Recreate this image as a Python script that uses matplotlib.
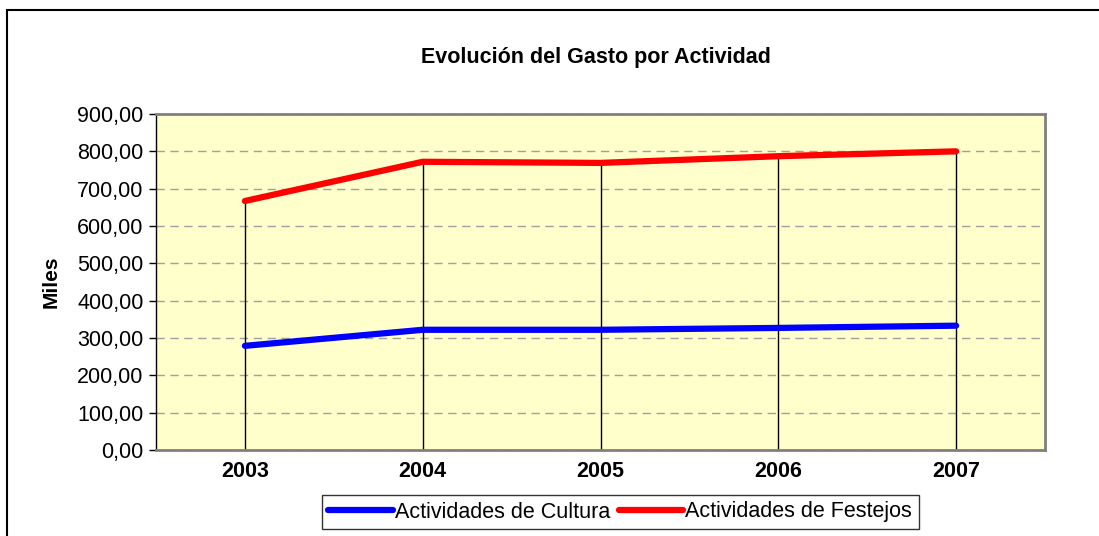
""" Evolución del Gasto por Actividad
"""

import matplotlib
matplotlib.use('Agg')
import matplotlib.pyplot as plt
from matplotlib.patches import Rectangle
from matplotlib.ticker import FuncFormatter, MultipleLocator

# Data
years = ['2003', '2004', '2005', '2006', '2007']
cultura = [279, 322, 322, 327, 333]
festejos = [667, 772, 769, 787, 800]

W, H = 1099, 536
plt.rcParams['font.family'] = ['Liberation Sans', 'DejaVu Sans']

fig = plt.figure(figsize=(W / 100, H / 100), dpi=100)
fig.patch.set_facecolor('white')

# Outer frame (extends past right/bottom edge like the source)
fig.patches.append(Rectangle((7 / W, -0.1), 1.2, 1 - 10 / H + 0.1,
                             transform=fig.transFigure, fill=False,
                             edgecolor='black', lw=1.5, clip_on=False))

ax = fig.add_axes([156 / W, (H - 450) / H, (1045 - 156) / W, (450 - 114) / H])
ax.set_facecolor('#FFFFCC')

x = list(range(len(years)))
# drop lines
top = [max(a, b) for a, b in zip(cultura, festejos)]
ax.vlines(x, 0, top, colors='black', lw=1, zorder=2)

ax.plot(x, cultura, color='#0000FF', lw=4.5, label='Actividades de Cultura',
        solid_capstyle='round', zorder=3)
ax.plot(x, festejos, color='#FF0000', lw=4.5, label='Actividades de Festejos',
        solid_capstyle='round', zorder=3)

ax.set_xlim(-0.5, 4.5)
ax.set_ylim(0, 900)
ax.yaxis.set_major_locator(MultipleLocator(100))
ax.yaxis.set_major_formatter(FuncFormatter(lambda v, p: ('%.2f' % v).replace('.', ',')))
ax.set_xticks(x)
ax.set_xticklabels(years, fontweight='bold')
ax.tick_params(axis='x', length=0, pad=8, labelsize=15.5)
ax.tick_params(axis='y', length=5, width=1, direction='out', labelsize=15.5, pad=4)
ax.grid(axis='y', color='#A0A0A0', linestyle=(0, (6, 4)), lw=1, zorder=1)
ax.set_axisbelow(True)

for s in ['top', 'right', 'bottom']:
    ax.spines[s].set_color('#808080')
    ax.spines[s].set_linewidth(2)
ax.spines['left'].set_color('black')
ax.spines['left'].set_linewidth(1)

ax.set_ylabel('Miles', fontsize=15, fontweight='bold', labelpad=12)

fig.text((415 + 776) / 2 / W, 1 - 58 / H, 'Evolución del Gasto por Actividad',
         ha='center', va='center', fontsize=15.5, fontweight='bold')

leg = fig.legend(loc='center', bbox_to_anchor=(620 / W, 1 - 512 / H), ncol=2,
                 fontsize=15.5, frameon=True, fancybox=False, handlelength=3.0,
                 handletextpad=0.1, columnspacing=0.4, borderpad=0.3,
                 borderaxespad=0)
leg.get_frame().set_edgecolor('black')
leg.get_frame().set_linewidth(1)

plt.savefig('out.png', dpi=100)
